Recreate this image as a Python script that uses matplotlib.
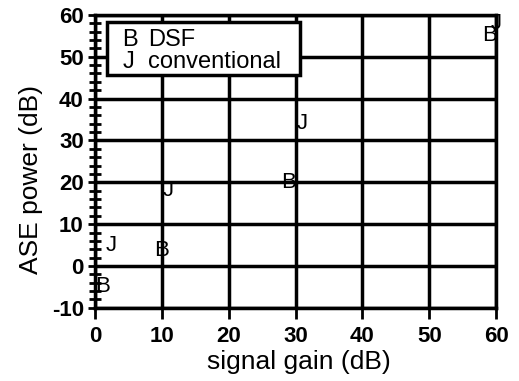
import numpy as np
import matplotlib
matplotlib.use("Agg")
import matplotlib.pyplot as plt
from matplotlib.patches import Rectangle

plt.rcParams['font.family'] = ['Liberation Sans', 'DejaVu Sans']
plt.rcParams['axes.unicode_minus'] = False

# DSF (drawn as "B")
dsf_gain = [1.2, 10, 29, 59]
dsf_ase = [-5, 3.6, 20, 55]
# conventional (drawn as "J")
conv_gain = [2.5, 11, 31, 60]
conv_ase = [5, 18, 34, 58]

fig = plt.figure(figsize=(5.19, 3.81), dpi=100)
ax = fig.add_axes([0.183, 0.192, 0.773, 0.769])

ax.set_xlim(0, 60)
ax.set_ylim(-10, 60)
ax.set_xticks(np.arange(0, 61, 10))
ax.set_yticks(np.arange(-10, 61, 10))
ax.set_yticks(np.arange(-10, 61, 2), minor=True)
ax.grid(True, which='major', color='black', linewidth=2.5)
for s in ax.spines.values():
    s.set_linewidth(2.5)

ax.tick_params(axis='y', which='major', direction='inout', length=10, width=2, pad=3, labelsize=16)
ax.tick_params(axis='y', which='minor', direction='inout', length=8, width=2)
ax.tick_params(axis='x', which='major', direction='out', length=8, width=2, pad=5, labelsize=16)
ax.tick_params(axis='both', right=False, top=False)
for lab in ax.get_xticklabels() + ax.get_yticklabels():
    lab.set_fontweight('bold')

for x, y in zip(dsf_gain, dsf_ase):
    ax.text(x, y, 'B', ha='center', va='center', fontsize=16, clip_on=False)
for x, y in zip(conv_gain, conv_ase):
    ax.text(x, y, 'J', ha='center', va='center', fontsize=16, clip_on=False)

# legend box
ax.add_patch(Rectangle((0.03, 0.795), 0.48, 0.18, transform=ax.transAxes,
                       facecolor='white', edgecolor='black', linewidth=2.5, zorder=5))
ax.text(0.068, 0.895, 'B', transform=ax.transAxes, fontsize=17, va='baseline', zorder=6)
ax.text(0.132, 0.895, 'DSF', transform=ax.transAxes, fontsize=17, va='baseline', zorder=6)
ax.text(0.068, 0.82, 'J', transform=ax.transAxes, fontsize=17, va='baseline', zorder=6)
ax.text(0.132, 0.82, 'conventional', transform=ax.transAxes, fontsize=17, va='baseline', zorder=6)

ax.set_xlabel('signal gain (dB)', fontsize=19)
ax.set_ylabel('ASE power (dB)', fontsize=19)
ax.xaxis.set_label_coords(0.509, -0.145)
ax.yaxis.set_label_coords(-0.13, 0.437)

fig.savefig('out.png', dpi=100)
